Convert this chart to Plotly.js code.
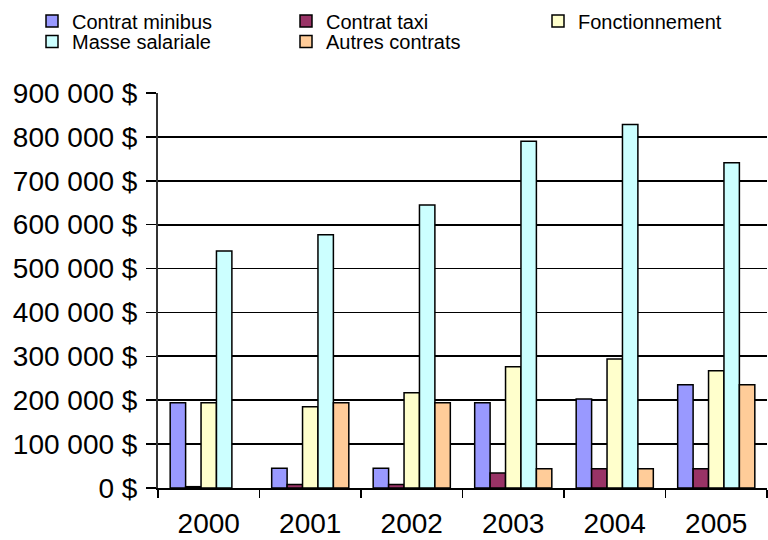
<!DOCTYPE html>
<html>
<head>
<meta charset="utf-8">
<script src="https://cdn.plot.ly/plotly-3.0.1.min.js"></script>
<style>html,body{margin:0;padding:0;background:#fff;}#chart{width:768px;height:540px;}</style>
</head>
<body>
<div id="chart"></div>
<script>
const years = ['2000', '2001', '2002', '2003', '2004', '2005'];
const seriesNames = ['Contrat minibus', 'Contrat taxi', 'Fonctionnement', 'Masse salariale', 'Autres contrats'];
const contratMinibus = [194000, 45000, 45000, 194000, 203000, 235000];
const contratTaxi = [3000, 8000, 8000, 34000, 44000, 44000];
const fonctionnement = [194000, 185000, 217000, 276000, 294000, 267000];
const masseSalariale = [540000, 577000, 645000, 790000, 828000, 741000];
const autresContrats = [null, 194000, 194000, 44000, 44000, 235000];
const yTickVals = [0, 100000, 200000, 300000, 400000, 500000, 600000, 700000, 800000, 900000];
const yTickText = ['0 $', '100 000 $', '200 000 $', '300 000 $', '400 000 $', '500 000 $', '600 000 $', '700 000 $', '800 000 $', '900 000 $'];

const seriesValues = [contratMinibus, contratTaxi, fonctionnement, masseSalariale, autresContrats];
const colors = ['#9999FF', '#993366', '#FFFFCC', '#CCFFFF', '#FFCC99'];
const legendIds = ['legend', 'legend2', 'legend3', 'legend4', 'legend5'];

const traces = seriesNames.map((name, i) => ({
  type: 'bar',
  name: name,
  x: years,
  y: seriesValues[i],
  legend: legendIds[i],
  marker: {color: colors[i], line: {color: '#000', width: 1.5}},
  hoverinfo: 'skip'
}));

const plotLeft = 158, plotW = 609, plotBottom = 488, plotH = 395;
function px2x(p) { return (p - plotLeft) / plotW; }
function px2y(p) { return (plotBottom - p) / plotH; }
const legFont = {family: 'Liberation Sans, Arial, sans-serif', size: 20, color: '#000'};
function leg(textX, centerY) {
  return {x: px2x(textX - 40), xanchor: 'left', y: px2y(centerY), yanchor: 'middle',
    font: legFont, bgcolor: 'rgba(0,0,0,0)', borderwidth: 0, tracegroupgap: 0, itemclick: false};
}

const layout = {
  width: 768, height: 540,
  margin: {l: plotLeft, r: 768 - plotLeft - plotW, t: 93, b: 540 - plotBottom, pad: 0},
  paper_bgcolor: '#fff', plot_bgcolor: '#fff',
  font: {family: 'Liberation Sans, Arial, sans-serif', color: '#000'},
  barmode: 'group', bargap: 0.24, bargroupgap: 0,
  showlegend: true,
  legend: leg(72, 21),
  legend2: leg(326, 21),
  legend3: leg(578, 21),
  legend4: leg(72, 41.5),
  legend5: leg(326, 41.5),
  xaxis: {
    type: 'category', range: [-0.5, 5.5],
    showline: true, linecolor: '#000', linewidth: 2,
    ticks: 'outside', tickson: 'boundaries', ticklen: 8, tickwidth: 1.5, tickcolor: '#000',
    tickfont: {size: 28, color: '#000'}, ticklabelstandoff: 9,
    showgrid: false, zeroline: false, fixedrange: true
  },
  yaxis: {
    range: [0, 900000],
    tickvals: yTickVals, ticktext: yTickText,
    showline: true, linecolor: '#333', linewidth: 2,
    ticks: 'outside', ticklen: 10, tickwidth: 1.5, tickcolor: '#000',
    tickfont: {size: 28, color: '#000'}, ticklabelstandoff: 3,
    showgrid: true, gridcolor: '#000', gridwidth: 1.8,
    zeroline: false, fixedrange: true
  }
};

Plotly.newPlot('chart', traces, layout, {displayModeBar: false, staticPlot: true});
</script>
</body>
</html>
